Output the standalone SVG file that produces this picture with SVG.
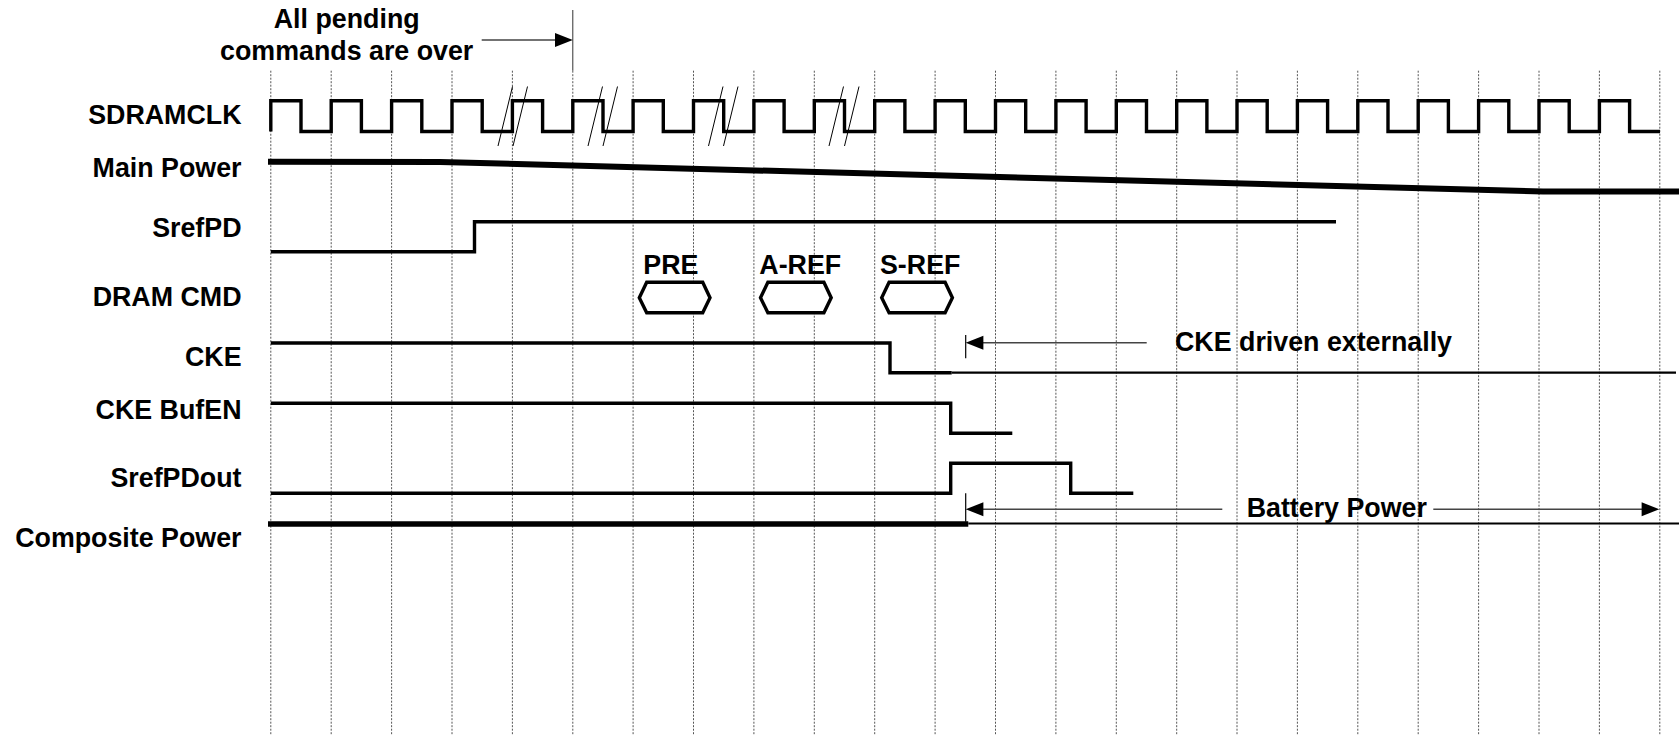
<svg xmlns="http://www.w3.org/2000/svg" width="1679" height="735" viewBox="0 0 1679 735">
<style>
text{font-family:"Liberation Sans",Arial,sans-serif;font-weight:bold;font-size:26.8px;fill:#000}
.lbl{text-anchor:end}
.grid{stroke:#555;stroke-width:1;stroke-dasharray:2,1.5;fill:none}
.sig{stroke:#000;stroke-width:3.4;fill:none;stroke-linejoin:miter}
.thin{stroke:#000;stroke-width:2.2;fill:none}
.slash{stroke:#000;stroke-width:1;fill:none}
.arr{stroke:#444;stroke-width:1.4;fill:none}
.tick{stroke:#000;stroke-width:1.2;fill:none}
.hex{stroke:#000;stroke-width:3.4;fill:#fff;stroke-linejoin:miter}
</style>
<defs>
<polygon id="hexShape" class="hex" points="0,15.4 7.4,0 63.4,0 70.7,15.4 63.4,30.4 7.4,30.4"/>
</defs>
<rect width="1679" height="735" fill="#fff"/>
<g id="grid">
<path class="grid" d="M270.8,70.7V735M331.2,70.7V735M391.6,70.7V735M452,70.7V735M512.4,70.7V735M572.8,70.7V735M633.1,70.7V735M693.5,70.7V735M753.9,70.7V735M814.3,70.7V735M874.7,70.7V735M935.1,70.7V735M995.5,70.7V735M1055.9,70.7V735M1116.3,70.7V735M1176.7,70.7V735M1237,70.7V735M1297.4,70.7V735M1357.8,70.7V735M1418.2,70.7V735M1478.6,70.7V735M1539,70.7V735M1599.4,70.7V735M1659.8,70.7V735"/>
<line x1="572.8" y1="10" x2="572.8" y2="70.7" stroke="#333" stroke-width="1"/>
</g>
<g id="labels">
<text class="lbl" x="241.5" y="124">SDRAMCLK</text>
<text class="lbl" x="241.5" y="177.3">Main Power</text>
<text class="lbl" x="241.5" y="237.3">SrefPD</text>
<text class="lbl" x="241.5" y="306">DRAM CMD</text>
<text class="lbl" x="241.5" y="366">CKE</text>
<text class="lbl" x="241.5" y="419">CKE BufEN</text>
<text class="lbl" x="241.5" y="486.7">SrefPDout</text>
<text class="lbl" x="241.5" y="547.3">Composite Power</text>
</g>
<g id="note-pending">
<text x="346.7" y="28.3" text-anchor="middle">All pending</text>
<text x="346.7" y="60" text-anchor="middle">commands are over</text>
</g>
<g id="sdramclk">
<path class="sig" d="M270.8,131.5V100.8H301V131.5H331.2V100.8H361.4V131.5H391.6V100.8H421.8V131.5H452V100.8H482.2V131.5H512.4V100.8H542.6V131.5H572.8V100.8H603V131.5H633.1V100.8H663.3V131.5H693.5V100.8H723.7V131.5H753.9V100.8H784.1V131.5H814.3V100.8H844.5V131.5H874.7V100.8H904.9V131.5H935.1V100.8H965.3V131.5H995.5V100.8H1025.7V131.5H1055.9V100.8H1086.1V131.5H1116.3V100.8H1146.5V131.5H1176.7V100.8H1206.9V131.5H1237V100.8H1267.2V131.5H1297.4V100.8H1327.6V131.5H1357.8V100.8H1388V131.5H1418.2V100.8H1448.4V131.5H1478.6V100.8H1508.8V131.5H1539V100.8H1569.2V131.5H1599.4V100.8H1629.6V131.5H1660"/>
<path class="slash" d="M498,146L512.5,86.5M513,146L527.5,86.5M588,146L602.5,86.5M603,146L617.5,86.5M708.5,146L723,86.5M723.5,146L738,86.5M829,146L843.5,86.5M844.5,146L859,86.5"/>
</g>
<g id="main-power">
<polyline points="268,161.7 440,162 1543,191.5 1679,191.5" fill="none" stroke="#000" stroke-width="6"/>
</g>
<g id="srefpd">
<path class="sig" d="M270.8,251.7H474.5V221.7H1336"/>
</g>
<g id="dram-cmd">
<use href="#hexShape" x="639.3" y="282.3"/>
<use href="#hexShape" x="760.5" y="282.3"/>
<use href="#hexShape" x="881.7" y="282.3"/>
<text x="643.3" y="274">PRE</text>
<text x="759.3" y="274">A-REF</text>
<text x="880" y="274">S-REF</text>
</g>
<g id="cke">
<path class="sig" d="M270.8,343H890V372.7H951.7"/>
<path class="thin" d="M951.7,372.7H1676"/>
</g>
<g id="cke-bufen">
<path class="sig" d="M270.8,403.3H950.7V433.3H1012.3"/>
</g>
<g id="srefpdout">
<path class="sig" d="M270.8,493.3H950.7V463.3H1070.7V493.3H1133.3"/>
</g>
<g id="composite-power">
<path d="M268,524H968.3" stroke="#000" stroke-width="5.5" fill="none"/>
<path class="thin" d="M968.3,523.5H1679"/>
</g>
<g id="connectors">
<path class="arr" d="M481.7,40H556"/>
<polygon points="572.8,40 555,33 555,47" fill="#000"/>
<path class="tick" d="M965.7,335V358.3"/>
<path class="arr" d="M982,342.7H1146.7"/>
<polygon points="965.7,342.7 983.4,335.7 983.4,349.7" fill="#000"/>
<text x="1175" y="350.5">CKE driven externally</text>
<path class="tick" d="M965.7,493.3V521.7"/>
<path class="arr" d="M982,509.3H1222.3"/>
<polygon points="965.7,509.3 983.4,502.3 983.4,516.3" fill="#000"/>
<text x="1246.7" y="516.7">Battery Power</text>
<path class="arr" d="M1433.3,509.3H1643"/>
<polygon points="1659.3,509.3 1641.6,502.3 1641.6,516.3" fill="#000"/>
</g>
</svg>
